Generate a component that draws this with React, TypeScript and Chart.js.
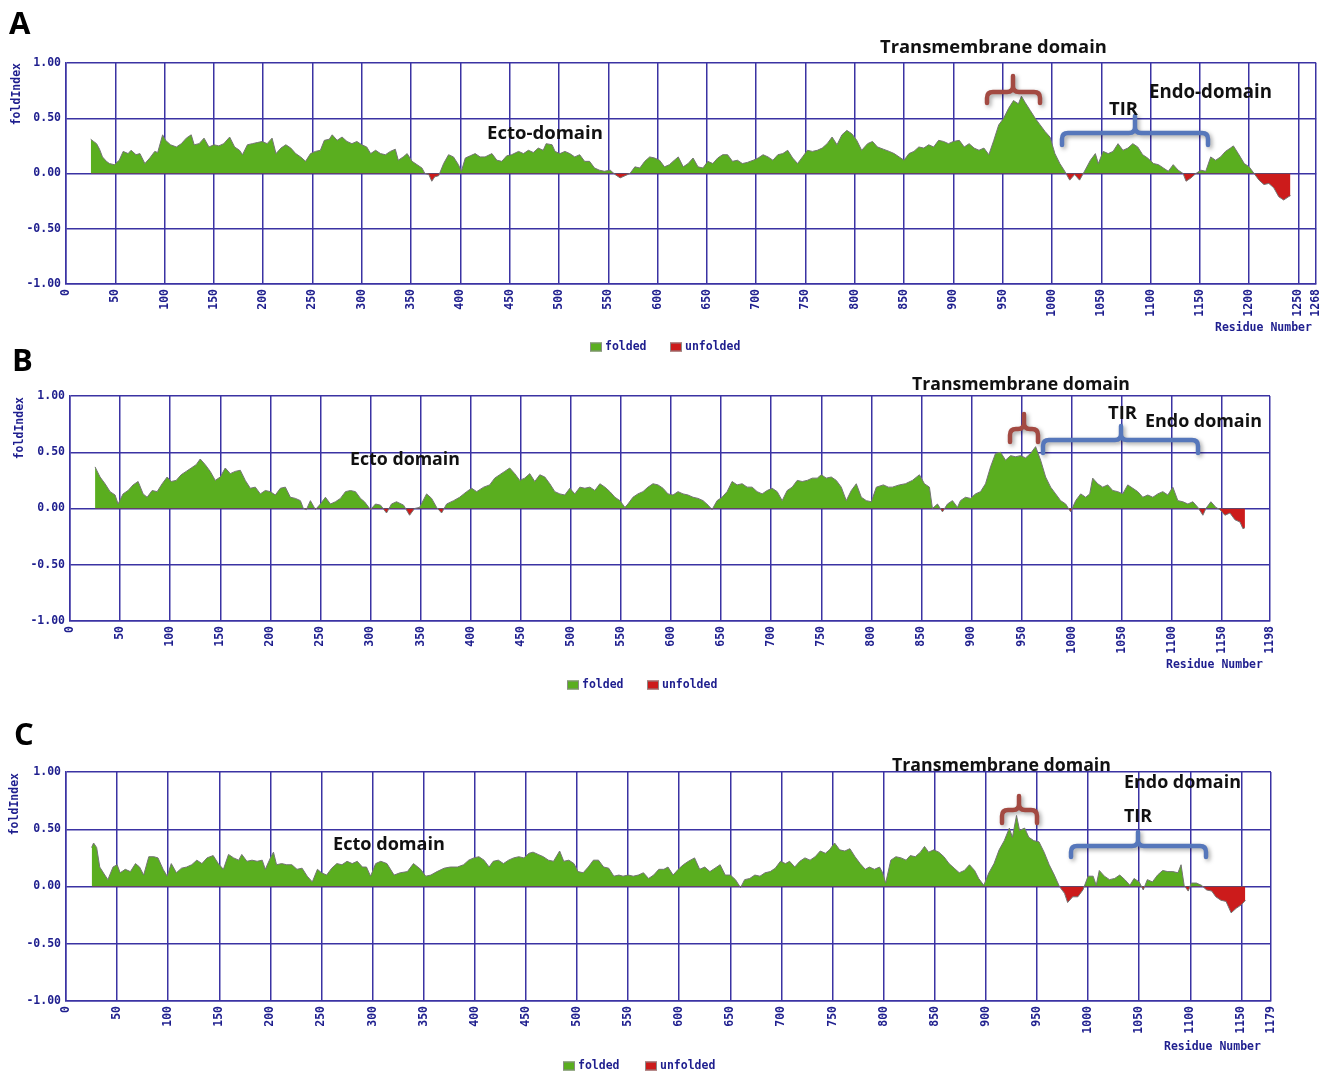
import React, { useEffect, useRef } from "react";
import { Chart, registerables } from "chart.js";

Chart.register(...registerables);

// ---------------- DATA ----------------
// Panel A (sequence length 1268)
const residuesA = [25, 28, 31, 34, 37, 41, 44, 49, 54, 58, 63, 66, 71, 75, 80, 85, 90, 93, 98, 101, 106, 112, 117, 122, 127, 130, 135, 140, 145, 150, 155, 160, 166, 171, 176, 179, 184, 189, 194, 199, 204, 209, 213, 218, 223, 228, 233, 238, 243, 248, 253, 258, 262, 267, 270, 275, 280, 285, 290, 295, 300, 305, 309, 314, 319, 324, 329, 334, 337, 342, 346, 351, 356, 361, 364, 368, 371, 374, 378, 383, 388, 393, 398, 401, 405, 410, 415, 420, 425, 432, 437, 442, 447, 452, 459, 464, 469, 474, 479, 484, 487, 493, 496, 501, 506, 511, 516, 521, 526, 531, 536, 541, 546, 552, 557, 562, 567, 572, 577, 582, 587, 592, 597, 602, 607, 612, 617, 621, 626, 631, 636, 641, 646, 651, 656, 661, 666, 671, 676, 681, 686, 691, 697, 702, 707, 712, 717, 722, 727, 732, 737, 742, 747, 752, 757, 762, 767, 772, 777, 782, 787, 792, 797, 802, 807, 813, 818, 823, 829, 835, 840, 845, 850, 855, 860, 865, 870, 875, 880, 885, 890, 895, 900, 906, 911, 916, 921, 926, 931, 936, 941, 946, 951, 956, 961, 966, 969, 973, 978, 983, 988, 993, 998, 1003, 1008, 1013, 1018, 1023, 1028, 1033, 1039, 1044, 1047, 1052, 1057, 1062, 1067, 1072, 1077, 1082, 1087, 1092, 1097, 1103, 1108, 1113, 1118, 1123, 1128, 1133, 1136, 1141, 1146, 1151, 1156, 1161, 1166, 1171, 1176, 1181, 1184, 1189, 1195, 1200, 1205, 1210, 1215, 1220, 1225, 1230, 1235, 1240, 1242];
const foldA = [0.31, 0.29, 0.27, 0.22, 0.15, 0.11, 0.09, 0.08, 0.12, 0.2, 0.18, 0.21, 0.17, 0.18, 0.09, 0.14, 0.2, 0.19, 0.35, 0.3, 0.26, 0.24, 0.27, 0.32, 0.35, 0.26, 0.27, 0.32, 0.24, 0.26, 0.25, 0.27, 0.33, 0.24, 0.21, 0.17, 0.26, 0.27, 0.28, 0.29, 0.27, 0.32, 0.18, 0.23, 0.26, 0.23, 0.18, 0.15, 0.11, 0.18, 0.2, 0.21, 0.3, 0.31, 0.35, 0.3, 0.33, 0.29, 0.27, 0.29, 0.26, 0.24, 0.18, 0.21, 0.18, 0.17, 0.2, 0.22, 0.12, 0.15, 0.18, 0.11, 0.08, 0.05, 0.0, -0.01, -0.07, -0.03, -0.02, 0.09, 0.17, 0.15, 0.08, 0.02, 0.14, 0.16, 0.18, 0.15, 0.15, 0.18, 0.12, 0.11, 0.16, 0.17, 0.2, 0.18, 0.21, 0.19, 0.23, 0.21, 0.27, 0.26, 0.2, 0.18, 0.2, 0.18, 0.15, 0.17, 0.11, 0.11, 0.05, 0.03, 0.02, 0.03, -0.01, -0.04, -0.02, 0.0, 0.06, 0.05, 0.11, 0.15, 0.14, 0.12, 0.06, 0.08, 0.12, 0.15, 0.06, 0.09, 0.14, 0.06, 0.05, 0.11, 0.09, 0.14, 0.17, 0.17, 0.11, 0.12, 0.09, 0.1, 0.12, 0.14, 0.17, 0.15, 0.12, 0.17, 0.18, 0.21, 0.14, 0.09, 0.15, 0.21, 0.2, 0.21, 0.23, 0.27, 0.33, 0.26, 0.35, 0.39, 0.36, 0.3, 0.21, 0.27, 0.29, 0.24, 0.22, 0.2, 0.18, 0.15, 0.12, 0.18, 0.2, 0.24, 0.23, 0.26, 0.24, 0.3, 0.29, 0.27, 0.29, 0.3, 0.24, 0.27, 0.23, 0.21, 0.23, 0.17, 0.3, 0.44, 0.5, 0.59, 0.66, 0.63, 0.7, 0.64, 0.57, 0.5, 0.44, 0.38, 0.33, 0.18, 0.09, 0.02, -0.06, -0.01, -0.06, 0.02, 0.12, 0.18, 0.09, 0.2, 0.18, 0.2, 0.27, 0.21, 0.23, 0.27, 0.24, 0.17, 0.14, 0.09, 0.08, 0.05, 0.02, 0.08, 0.03, 0.0, -0.07, -0.04, 0.0, 0.03, 0.02, 0.15, 0.12, 0.15, 0.2, 0.23, 0.25, 0.18, 0.09, 0.06, 0.0, -0.06, -0.1, -0.09, -0.13, -0.21, -0.24, -0.21, -0.2];

// Panel B (sequence length 1198)
const residuesB = [25, 30, 35, 40, 45, 48, 53, 58, 63, 68, 73, 77, 82, 87, 92, 97, 101, 106, 111, 116, 121, 126, 130, 135, 140, 145, 150, 155, 160, 165, 170, 175, 180, 185, 190, 195, 200, 205, 210, 215, 220, 225, 230, 233, 236, 240, 245, 250, 255, 260, 265, 270, 275, 280, 285, 290, 294, 300, 305, 310, 316, 321, 326, 333, 339, 344, 349, 356, 361, 366, 371, 376, 383, 389, 396, 401, 406, 413, 419, 424, 429, 434, 439, 444, 449, 454, 459, 464, 469, 474, 479, 484, 489, 494, 499, 504, 509, 514, 519, 524, 529, 534, 539, 544, 549, 554, 557, 562, 567, 572, 577, 582, 587, 592, 597, 602, 607, 612, 617, 622, 627, 632, 637, 641, 646, 651, 656, 661, 666, 671, 676, 681, 686, 691, 696, 701, 706, 711, 716, 721, 726, 731, 736, 741, 746, 750, 755, 760, 765, 770, 775, 780, 785, 790, 795, 800, 805, 812, 817, 821, 828, 834, 841, 848, 853, 858, 861, 866, 871, 876, 881, 886, 889, 894, 899, 904, 909, 914, 919, 924, 929, 934, 939, 944, 949, 954, 959, 964, 969, 974, 979, 984, 989, 994, 999, 1004, 1009, 1014, 1018, 1021, 1026, 1031, 1036, 1041, 1046, 1051, 1056, 1061, 1066, 1071, 1076, 1081, 1086, 1091, 1096, 1101, 1106, 1111, 1116, 1121, 1126, 1131, 1134, 1139, 1144, 1148, 1153, 1158, 1163, 1168, 1171, 1173];
const foldB = [0.37, 0.28, 0.22, 0.15, 0.12, 0.04, 0.13, 0.16, 0.21, 0.24, 0.13, 0.1, 0.16, 0.15, 0.22, 0.28, 0.24, 0.25, 0.3, 0.33, 0.36, 0.39, 0.44, 0.39, 0.33, 0.25, 0.28, 0.36, 0.31, 0.33, 0.34, 0.25, 0.18, 0.19, 0.13, 0.16, 0.15, 0.12, 0.18, 0.19, 0.1, 0.09, 0.07, 0.0, -0.01, 0.07, -0.01, 0.04, 0.1, 0.04, 0.06, 0.09, 0.15, 0.16, 0.15, 0.09, 0.06, -0.01, 0.04, 0.03, -0.04, 0.04, 0.06, 0.03, -0.06, 0.0, 0.01, 0.13, 0.09, 0.01, -0.04, 0.04, 0.07, 0.1, 0.15, 0.18, 0.15, 0.19, 0.21, 0.27, 0.3, 0.33, 0.36, 0.31, 0.25, 0.27, 0.31, 0.24, 0.3, 0.28, 0.22, 0.15, 0.13, 0.12, 0.18, 0.13, 0.19, 0.18, 0.19, 0.16, 0.22, 0.19, 0.15, 0.1, 0.07, 0.01, 0.04, 0.1, 0.13, 0.15, 0.19, 0.22, 0.21, 0.18, 0.13, 0.12, 0.15, 0.13, 0.12, 0.1, 0.09, 0.07, 0.03, -0.01, 0.07, 0.1, 0.15, 0.24, 0.21, 0.22, 0.19, 0.19, 0.15, 0.13, 0.16, 0.18, 0.15, 0.07, 0.16, 0.19, 0.25, 0.24, 0.25, 0.27, 0.27, 0.3, 0.27, 0.28, 0.25, 0.19, 0.07, 0.16, 0.22, 0.1, 0.07, 0.06, 0.19, 0.21, 0.19, 0.19, 0.21, 0.22, 0.25, 0.3, 0.22, 0.19, 0.0, 0.04, -0.03, 0.04, 0.07, 0.01, 0.07, 0.1, 0.09, 0.13, 0.15, 0.22, 0.37, 0.49, 0.5, 0.43, 0.47, 0.46, 0.47, 0.45, 0.49, 0.55, 0.43, 0.28, 0.19, 0.13, 0.07, 0.04, -0.03, 0.07, 0.13, 0.1, 0.13, 0.27, 0.22, 0.19, 0.21, 0.16, 0.15, 0.13, 0.21, 0.18, 0.15, 0.1, 0.12, 0.1, 0.13, 0.15, 0.12, 0.19, 0.07, 0.06, 0.04, 0.06, 0.01, -0.06, 0.0, 0.06, 0.01, -0.01, -0.06, -0.04, -0.1, -0.12, -0.18, -0.17];

// Panel C (sequence length 1179)
const residuesC = [25, 27, 30, 33, 38, 41, 46, 50, 53, 58, 63, 68, 72, 76, 81, 86, 90, 95, 99, 103, 108, 113, 118, 123, 128, 133, 138, 144, 149, 154, 159, 164, 169, 172, 177, 182, 187, 192, 195, 200, 203, 206, 211, 216, 221, 226, 231, 236, 241, 246, 250, 255, 260, 265, 270, 275, 280, 285, 290, 294, 298, 303, 308, 314, 321, 327, 334, 340, 347, 352, 357, 363, 370, 376, 383, 389, 394, 399, 404, 409, 414, 418, 423, 428, 433, 438, 443, 448, 453, 457, 462, 467, 472, 477, 483, 487, 492, 497, 501, 506, 511, 516, 521, 526, 531, 536, 541, 545, 550, 555, 560, 565, 570, 575, 580, 585, 589, 594, 599, 604, 609, 615, 620, 625, 630, 635, 640, 645, 650, 655, 660, 664, 669, 674, 679, 684, 689, 694, 699, 704, 708, 713, 718, 723, 728, 733, 738, 743, 747, 752, 757, 762, 767, 772, 777, 782, 786, 791, 796, 799, 802, 807, 812, 817, 822, 826, 831, 836, 840, 844, 849, 854, 859, 864, 869, 874, 879, 884, 889, 893, 898, 903, 908, 913, 918, 923, 926, 930, 933, 938, 942, 947, 952, 957, 962, 967, 972, 977, 980, 985, 990, 995, 1000, 1005, 1008, 1011, 1016, 1021, 1026, 1031, 1036, 1041, 1045, 1050, 1054, 1058, 1063, 1068, 1073, 1078, 1083, 1088, 1091, 1094, 1098, 1101, 1106, 1111, 1116, 1121, 1125, 1130, 1135, 1140, 1145, 1150, 1154];
const foldC = [0.34, 0.38, 0.34, 0.17, 0.1, 0.06, 0.17, 0.19, 0.12, 0.15, 0.13, 0.2, 0.17, 0.1, 0.26, 0.26, 0.25, 0.15, 0.09, 0.2, 0.12, 0.16, 0.17, 0.19, 0.23, 0.2, 0.25, 0.27, 0.2, 0.15, 0.28, 0.25, 0.23, 0.28, 0.22, 0.23, 0.22, 0.23, 0.15, 0.25, 0.3, 0.19, 0.2, 0.19, 0.19, 0.15, 0.16, 0.09, 0.04, 0.15, 0.12, 0.1, 0.16, 0.2, 0.19, 0.22, 0.2, 0.22, 0.17, 0.17, 0.09, 0.2, 0.22, 0.2, 0.1, 0.12, 0.13, 0.2, 0.15, 0.09, 0.1, 0.13, 0.16, 0.17, 0.17, 0.19, 0.23, 0.25, 0.26, 0.23, 0.17, 0.22, 0.23, 0.2, 0.23, 0.25, 0.26, 0.25, 0.29, 0.3, 0.28, 0.26, 0.23, 0.22, 0.31, 0.22, 0.23, 0.2, 0.13, 0.12, 0.17, 0.23, 0.23, 0.17, 0.16, 0.09, 0.1, 0.09, 0.1, 0.09, 0.1, 0.12, 0.07, 0.1, 0.15, 0.15, 0.17, 0.1, 0.15, 0.19, 0.22, 0.25, 0.15, 0.17, 0.13, 0.16, 0.19, 0.1, 0.1, 0.06, -0.01, 0.06, 0.07, 0.1, 0.09, 0.12, 0.13, 0.16, 0.22, 0.2, 0.22, 0.17, 0.22, 0.25, 0.23, 0.26, 0.31, 0.29, 0.32, 0.38, 0.32, 0.31, 0.33, 0.26, 0.2, 0.15, 0.17, 0.15, 0.17, 0.12, 0.03, 0.23, 0.26, 0.25, 0.23, 0.27, 0.26, 0.3, 0.35, 0.3, 0.32, 0.3, 0.26, 0.2, 0.16, 0.12, 0.14, 0.19, 0.14, 0.07, 0.01, 0.12, 0.2, 0.32, 0.4, 0.51, 0.43, 0.62, 0.49, 0.51, 0.43, 0.4, 0.39, 0.3, 0.19, 0.1, 0.0, -0.06, -0.14, -0.09, -0.09, -0.03, 0.09, 0.09, 0.01, 0.14, 0.09, 0.06, 0.07, 0.1, 0.06, 0.01, 0.07, 0.04, -0.03, 0.06, 0.04, 0.1, 0.14, 0.13, 0.13, 0.12, 0.19, 0.01, -0.04, 0.03, 0.03, 0.01, -0.03, -0.04, -0.09, -0.12, -0.13, -0.23, -0.19, -0.16, -0.12];

const lengthA = 1268;
const lengthB = 1198;
const lengthC = 1179;
const yTickValues = [-1, -0.5, 0, 0.5, 1];
const seriesLabels = ["folded", "unfolded"];
const yTitle = "foldIndex";
const xTitle = "Residue Number";

// ---------------- STYLE ----------------
const GREEN = "#5aae1f";
const RED_FILL = "#cc1b1b";
const GRID = "#3b33a3";
const NAVY = "#1e1e8e";
const MONO_FONT = "'DejaVu Sans Mono', monospace";
const MONO = `bold 11.5px ${MONO_FONT}`;
const BRACE_RED = "#a34a42";
const BRACE_BLUE = "#5677bb";
const XH = 40;
const PAGE_W = 1335;

function residueTicks(len: number): number[] {
  const t: number[] = [];
  for (let v = 0; v <= len; v += 50) t.push(v);
  if (t[t.length - 1] !== len) t.push(len);
  return t;
}

type Label = { text: string; x: number; y: number; w: number };
type Brace = { color: string; l: number; r: number; c: number; bar: number; top: number; bottom: number };
type Panel = {
  key: string;
  top: number;
  height: number;
  left: number;
  right: number;
  plotTop: number;
  plotBottom: number;
  length: number;
  residues: number[];
  fold: number[];
  letter: { text: string; x: number; y: number };
  labels: Label[];
  braces: Brace[];
  legend: { x: number[]; y: number };
  residueLabel: { x: number; y: number };
  foldLabel: { x: number; y: number };
};

const panels: Panel[] = [
  {
    key: "A", top: 0, height: 360, left: 66, right: 1320, plotTop: 63, plotBottom: 284,
    length: lengthA, residues: residuesA, fold: foldA,
    letter: { text: "A", x: 9, y: 34 },
    labels: [
      { text: "Transmembrane domain", x: 880, y: 53, w: 227 },
      { text: "Ecto-domain", x: 487, y: 139, w: 116 },
      { text: "Endo-domain", x: 1149, y: 98, w: 123 },
      { text: "TIR", x: 1109, y: 115, w: 29 },
    ],
    braces: [
      { color: BRACE_RED, l: 987, r: 1040, c: 1013, bar: 92, top: 76, bottom: 103 },
      { color: BRACE_BLUE, l: 1062, r: 1208, c: 1135, bar: 133, top: 116, bottom: 145 },
    ],
    legend: { x: [590, 670], y: 347 },
    residueLabel: { x: 1215, y: 328 },
    foldLabel: { x: 17, y: 63 },
  },
  {
    key: "B", top: 340, height: 360, left: 70, right: 1270, plotTop: 396, plotBottom: 621,
    length: lengthB, residues: residuesB, fold: foldB,
    letter: { text: "B", x: 12, y: 371 },
    labels: [
      { text: "Transmembrane domain", x: 912, y: 390, w: 218 },
      { text: "Ecto domain", x: 350, y: 465, w: 110 },
      { text: "TIR", x: 1108, y: 419, w: 29 },
      { text: "Endo domain", x: 1145, y: 427, w: 117 },
    ],
    braces: [
      { color: BRACE_RED, l: 1010, r: 1038, c: 1024, bar: 429, top: 414, bottom: 442 },
      { color: BRACE_BLUE, l: 1043, r: 1198, c: 1121, bar: 440, top: 426, bottom: 453 },
    ],
    legend: { x: [567, 647], y: 685 },
    residueLabel: { x: 1166, y: 665 },
    foldLabel: { x: 20, y: 397 },
  },
  {
    key: "C", top: 700, height: 375, left: 66, right: 1271, plotTop: 772, plotBottom: 1001,
    length: lengthC, residues: residuesC, fold: foldC,
    letter: { text: "C", x: 14, y: 745 },
    labels: [
      { text: "Transmembrane domain", x: 892, y: 771, w: 219 },
      { text: "Ecto domain", x: 333, y: 850, w: 112 },
      { text: "Endo domain", x: 1124, y: 788, w: 117 },
      { text: "TIR", x: 1124, y: 822, w: 28 },
    ],
    braces: [
      { color: BRACE_RED, l: 1002, r: 1037, c: 1019, bar: 810, top: 796, bottom: 823 },
      { color: BRACE_BLUE, l: 1071, r: 1206, c: 1138, bar: 846, top: 832, bottom: 857 },
    ],
    legend: { x: [563, 645], y: 1066 },
    residueLabel: { x: 1164, y: 1047 },
    foldLabel: { x: 15, y: 773 },
  },
];

function drawBrace(ctx: CanvasRenderingContext2D, b: Brace, oy: number) {
  const r = 6;
  const bar = b.bar - oy;
  const top = b.top - oy;
  const bot = b.bottom - oy;
  ctx.save();
  ctx.strokeStyle = b.color;
  ctx.lineWidth = 4.5;
  ctx.lineCap = "round";
  ctx.lineJoin = "round";
  ctx.shadowColor = "rgba(0,0,0,0.35)";
  ctx.shadowBlur = 4;
  ctx.shadowOffsetX = 2;
  ctx.shadowOffsetY = 2;
  ctx.beginPath();
  ctx.moveTo(b.l, bot);
  ctx.lineTo(b.l, bar + r);
  ctx.quadraticCurveTo(b.l, bar, b.l + r, bar);
  ctx.lineTo(b.c - r, bar);
  ctx.quadraticCurveTo(b.c, bar, b.c, bar - r);
  ctx.lineTo(b.c, top);
  ctx.moveTo(b.c, bar - r);
  ctx.quadraticCurveTo(b.c, bar, b.c + r, bar);
  ctx.lineTo(b.r - r, bar);
  ctx.quadraticCurveTo(b.r, bar, b.r, bar + r);
  ctx.lineTo(b.r, bot);
  ctx.stroke();
  ctx.restore();
}

function makeDecoPlugin(p: Panel) {
  return {
    id: "deco" + p.key,
    afterDraw(chart: any) {
      const ctx: CanvasRenderingContext2D = chart.ctx;
      const oy = p.top;
      ctx.save();
      // panel letter
      ctx.fillStyle = "#000";
      ctx.textBaseline = "alphabetic";
      ctx.textAlign = "left";
      ctx.font = "bold 31px 'Open Sans', sans-serif";
      ctx.fillText(p.letter.text, p.letter.x, p.letter.y - oy);
      // braces
      p.braces.forEach((b) => drawBrace(ctx, b, oy));
      // annotation labels, fitted to width
      p.labels.forEach((l) => {
        ctx.font = "bold 20px 'Open Sans', sans-serif";
        const m = ctx.measureText(l.text).width;
        const size = (20 * l.w) / m;
        ctx.font = `bold ${size.toFixed(2)}px 'Open Sans', sans-serif`;
        ctx.fillStyle = "#111";
        ctx.fillText(l.text, l.x, l.y - oy);
      });
      // axis titles
      ctx.fillStyle = NAVY;
      ctx.font = MONO;
      ctx.textBaseline = "middle";
      ctx.textAlign = "left";
      ctx.fillText(xTitle, p.residueLabel.x, p.residueLabel.y - oy);
      ctx.save();
      ctx.translate(p.foldLabel.x, p.foldLabel.y - oy);
      ctx.rotate(-Math.PI / 2);
      ctx.textAlign = "right";
      ctx.fillText(yTitle, 0, 0);
      ctx.restore();
      // legend
      const colors = [GREEN, RED_FILL];
      seriesLabels.forEach((lab, i) => {
        const bx = p.legend.x[i];
        const by = p.legend.y - oy;
        ctx.fillStyle = colors[i];
        ctx.fillRect(bx, by - 4.5, 12, 9);
        ctx.strokeStyle = "#8a8a8a";
        ctx.lineWidth = 1;
        ctx.strokeRect(bx + 0.5, by - 4.5 + 0.5, 11, 8);
        ctx.fillStyle = NAVY;
        ctx.font = MONO;
        ctx.textAlign = "left";
        ctx.textBaseline = "middle";
        ctx.fillText(lab, bx + 15, by);
      });
      ctx.restore();
    },
  };
}

function PanelChart({ p }: { p: Panel }) {
  const ref = useRef<HTMLCanvasElement | null>(null);
  useEffect(() => {
    if (!ref.current) return;
    const xTicks = residueTicks(p.length);
    const padTop = p.plotTop - p.top;
    const padRight = PAGE_W - p.right;
    const padBottom = p.top + p.height - p.plotBottom - XH;
    const chart = new Chart(ref.current, {
      type: "line",
      data: {
        datasets: [
          {
            label: seriesLabels[0] + "/" + seriesLabels[1],
            data: p.residues.map((r, i) => ({ x: r, y: p.fold[i] })),
            borderColor: "#737373",
            borderWidth: 1,
            backgroundColor: GREEN,
            pointRadius: 0,
            tension: 0,
            fill: { target: "origin", above: GREEN, below: RED_FILL },
          } as any,
        ],
      },
      options: {
        animation: false,
        responsive: false,
        events: [],
        layout: { padding: { left: 0, top: padTop, right: padRight, bottom: padBottom } },
        plugins: {
          legend: { display: false },
          tooltip: { enabled: false },
          title: { display: false },
        },
        scales: {
          x: {
            type: "linear",
            min: 0,
            max: p.length,
            z: 1,
            afterBuildTicks: (axis: any) => {
              axis.ticks = xTicks.map((v) => ({ value: v }));
            },
            afterFit: (axis: any) => {
              axis.height = XH;
            },
            grid: { color: GRID, lineWidth: 1.5, drawTicks: false },
            border: { display: true, color: GRID, width: 1.5 },
            ticks: {
              autoSkip: false,
              minRotation: 90,
              maxRotation: 90,
              padding: 5,
              color: NAVY,
              font: { family: MONO_FONT, size: 11.5, weight: "bold" },
              callback: (v: any) => String(v),
            },
          },
          y: {
            type: "linear",
            min: -1,
            max: 1,
            z: 1,
            afterBuildTicks: (axis: any) => {
              axis.ticks = yTickValues.map((v) => ({ value: v }));
            },
            afterFit: (axis: any) => {
              axis.width = p.left;
            },
            grid: { color: GRID, lineWidth: 1.5, drawTicks: false },
            border: { display: true, color: GRID, width: 1.5 },
            ticks: {
              padding: 5,
              color: NAVY,
              font: { family: MONO_FONT, size: 11.5, weight: "bold" },
              callback: (v: any) => Number(v).toFixed(2),
            },
          },
        },
      } as any,
      plugins: [makeDecoPlugin(p)],
    });
    return () => chart.destroy();
  }, [p]);
  return (
    <canvas
      ref={ref}
      width={PAGE_W}
      height={p.height}
      style={{ position: "absolute", left: 0, top: p.top, width: PAGE_W, height: p.height }}
    />
  );
}

export default function App() {
  return (
    <div
      style={{
        position: "absolute",
        left: 0,
        top: 0,
        width: PAGE_W,
        height: 1075,
        background: "#ffffff",
        overflow: "hidden",
      }}
    >
      {panels.map((p) => (
        <PanelChart key={p.key} p={p} />
      ))}
    </div>
  );
}
